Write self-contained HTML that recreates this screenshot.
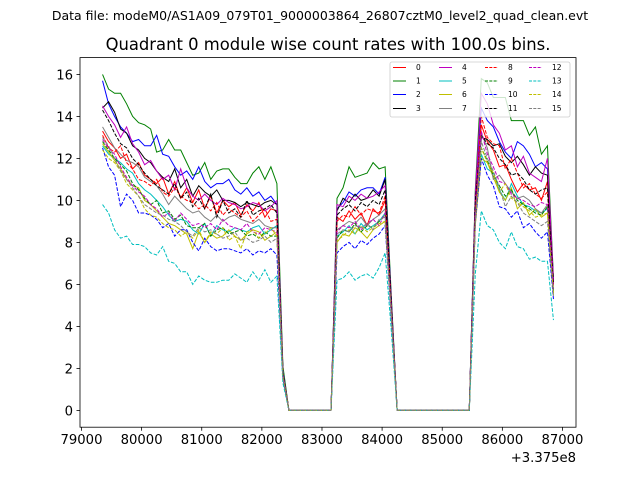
<!DOCTYPE html>
<html><head><meta charset="utf-8"><style>
html,body{margin:0;padding:0;background:#fff;}
svg{display:block;font-family:"DejaVu Sans","Liberation Sans",sans-serif;}
</style></head><body>
<svg id="chart" width="640" height="480" viewBox="0 0 640 480">
<rect width="640" height="480" fill="#fff"/>
<text x="320" y="20" font-size="12.5" text-anchor="middle">Data file: modeM0/AS1A09_079T01_9000003864_26807cztM0_level2_quad_clean.evt</text>
<text x="328" y="50" font-size="16.4" text-anchor="middle">Quadrant 0 module wise count rates with 100.0s bins.</text>
<g id="plot"></g>
<g id="axes"></g>
<g id="legend"></g>
</svg>
<script>
const timesA=[79350,79450,79550,79650,79750,79850,79950,80050,80150,80250,80350,80450,80550,80650,80750,80850,80950,81050,81150,81250,81350,81450,81550,81650,81750,81850,81950,82050,82150,82250,82350];
const timesZ1=[82450,82550,82650,82750,82850,82950,83050];
const timesB=[83150,83250,83350,83450,83550,83650,83750,83850,83950,84050,84150];
const timesZ2=[84250,84350,84450,84550,84650,84750,84850,84950,85050,85150,85250,85350,85450];
const timesC=[85550,85650,85750,85850,85950,86050,86150,86250,86350,86450,86550,86650,86750,86850];
const zeros1=[0,0,0,0,0,0,0];
const zeros2=[0,0,0,0,0,0,0,0,0,0,0,0,0];
const seriesNames=["0","1","2","3","4","5","6","7","8","9","10","11","12","13","14","15"];
const segA=[
[13.3,12.8,12.5,12.0,12.2,11.5,11.8,11.2,11.0,10.8,11.1,10.3,10.9,10.1,10.6,9.9,10.5,9.6,10.2,9.4,10.0,9.7,9.9,9.3,9.8,9.5,9.9,9.2,9.6,9.5,2.0],
[16.0,15.3,15.1,15.1,14.6,14.0,13.7,13.6,13.4,12.3,12.4,12.9,12.4,12.4,11.8,11.2,11.3,11.8,11.0,11.4,11.5,11.5,11.1,10.8,10.8,11.3,11.6,11.0,11.6,10.8,2.1],
[15.7,14.6,14.0,13.5,13.2,12.8,12.9,12.6,12.6,13.1,12.2,12.1,11.6,11.2,11.4,11.0,11.6,10.9,10.6,10.8,10.8,11.0,10.5,10.3,10.6,10.2,10.4,10.0,10.2,9.8,1.9],
[14.4,14.7,14.2,13.4,13.2,12.6,12.4,12.0,11.8,11.4,11.1,10.9,11.5,10.6,11.0,10.2,10.7,10.4,10.2,10.5,10.0,10.0,9.9,9.7,9.9,9.8,9.7,9.9,10.0,9.8,1.8],
[14.5,14.0,13.6,13.0,13.5,12.7,12.3,11.7,11.9,11.4,11.0,11.2,10.5,11.5,10.6,10.2,10.0,10.3,10.0,9.8,10.1,9.9,9.8,9.6,9.7,9.9,9.8,9.5,9.7,10.0,1.7],
[12.6,12.2,12.0,11.8,11.5,11.3,10.8,10.5,10.3,10.0,9.7,9.3,9.0,9.1,9.0,8.6,8.4,8.9,8.3,8.8,8.6,8.5,8.7,8.6,8.5,8.7,8.8,8.4,8.6,8.8,1.7],
[12.7,12.3,11.9,11.5,11.0,10.7,10.6,10.0,9.8,9.5,9.2,8.9,8.8,8.6,8.4,7.7,8.5,8.0,8.4,8.2,8.3,8.6,8.3,8.1,8.4,8.6,8.5,8.1,8.3,8.5,1.8],
[13.5,13.0,12.5,12.2,11.9,11.8,11.6,11.1,10.9,10.7,10.3,9.8,10.2,9.9,9.6,9.4,9.5,9.2,9.0,9.3,9.0,9.2,9.3,9.1,9.0,8.9,9.1,8.8,8.7,8.7,1.6],
[13.1,12.5,12.3,12.6,11.8,11.5,11.0,10.9,10.7,11.0,10.4,10.2,10.6,10.2,10.0,9.9,9.6,9.8,9.5,9.9,9.3,9.6,9.4,9.2,9.5,9.0,9.3,9.6,9.0,9.1,1.7],
[12.8,12.4,12.0,11.7,11.4,10.8,10.5,10.1,9.8,10.0,9.4,9.5,9.1,9.3,8.8,8.7,8.7,8.9,8.3,8.6,8.7,8.4,8.5,8.6,8.3,8.4,8.2,8.5,8.3,8.3,1.6],
[12.5,11.6,11.2,9.7,10.3,10.0,9.4,9.4,9.3,9.1,8.7,8.9,8.3,8.6,8.6,8.0,7.6,8.2,7.8,7.6,7.7,7.7,7.6,7.5,7.7,7.4,7.6,7.5,7.7,7.4,1.5],
[14.3,13.8,13.2,12.7,12.5,12.0,11.7,11.3,11.0,10.7,10.5,10.3,10.8,10.1,10.4,9.7,10.1,9.6,10.3,9.2,10.0,9.4,9.6,9.2,10.0,9.3,9.5,9.6,9.8,9.4,1.8],
[12.9,12.5,12.2,11.6,11.1,10.7,10.4,10.2,9.8,9.6,9.2,9.4,9.0,9.4,9.1,8.8,8.9,8.7,8.9,8.6,9.1,8.8,8.7,8.6,8.9,8.5,8.4,8.7,8.6,8.5,1.7],
[9.8,9.4,8.6,8.2,8.3,7.9,7.9,7.8,7.5,7.4,7.8,7.1,7.0,6.6,6.6,6.0,6.4,6.2,6.1,6.1,6.2,6.2,6.5,6.3,6.1,6.6,6.2,6.7,6.1,6.4,1.3],
[12.4,12.0,11.8,11.4,10.8,10.5,10.2,9.6,9.3,9.2,8.9,8.7,8.6,8.3,8.5,8.2,8.6,8.0,8.5,8.4,8.7,8.1,8.3,7.7,8.5,8.6,8.2,8.4,8.7,8.3,1.6],
[13.0,12.6,12.0,11.4,11.0,10.6,10.2,9.8,9.6,9.4,9.3,9.1,9.0,8.8,8.5,8.3,8.7,8.5,8.6,8.4,8.2,8.3,8.5,8.1,8.2,8.0,8.1,8.3,8.0,8.2,1.6]];
const segB=[
[0,9.2,9.0,9.5,9.1,9.4,8.8,9.6,9.3,10.0,5.2],
[0,10.1,10.6,11.6,11.1,11.2,11.3,11.8,11.5,11.6,5.6],
[0,9.6,9.9,10.4,10.2,10.5,10.6,10.6,10.3,11.1,5.4],
[0,9.5,10.1,9.9,10.3,10.0,10.1,10.5,10.2,11.0,5.3],
[0,9.8,9.7,10.2,10.0,10.3,10.1,10.2,10.4,10.7,5.3],
[0,8.3,8.5,8.8,8.4,8.9,8.6,8.8,9.0,9.4,4.8],
[0,8.0,8.4,8.3,8.7,8.5,8.2,8.6,8.8,9.0,4.7],
[0,8.6,8.8,9.0,8.9,9.2,8.8,9.1,9.3,9.6,4.9],
[0,9.0,9.3,9.2,9.7,9.3,9.6,9.5,9.4,10.2,5.1],
[0,8.2,8.6,8.5,8.9,8.5,8.8,8.7,9.0,9.3,4.8],
[0,7.5,7.8,8.0,7.7,8.1,7.9,8.2,8.4,8.8,4.5],
[0,9.3,9.6,9.8,9.5,9.9,9.7,10.0,9.8,10.5,5.2],
[0,8.5,8.8,8.7,9.0,8.6,8.9,9.1,8.8,9.4,4.8],
[0,6.2,6.3,6.6,6.2,6.4,6.5,6.3,6.8,7.5,3.9],
[0,8.1,8.3,8.6,8.4,8.8,8.5,8.7,8.9,9.0,4.7],
[0,8.4,8.6,8.5,8.8,8.7,8.9,8.6,9.1,9.2,4.8]];
const segC=[
[9.5,13.6,12.8,12.4,11.6,11.7,11.0,10.4,10.8,10.5,10.6,10.0,10.9,6.0],
[10.5,15.8,15.6,14.9,14.9,14.9,13.8,13.8,13.8,13.1,13.5,12.2,12.6,6.3],
[10.2,14.4,13.8,13.5,12.8,12.3,12.0,12.8,12.6,12.2,11.6,11.8,11.5,6.2],
[10.0,13.0,12.9,12.6,12.7,12.1,11.8,12.1,11.7,11.2,11.6,11.3,11.2,6.1],
[10.3,15.1,14.6,13.6,13.2,12.4,12.6,11.6,12.1,11.3,11.1,10.9,12.0,6.2],
[9.0,12.2,11.5,11.3,10.5,10.0,10.8,10.2,9.8,9.7,9.5,9.4,9.6,5.6],
[8.8,12.0,11.8,11.1,10.4,10.0,10.6,9.6,9.9,9.3,9.6,9.2,9.4,5.5],
[9.5,13.2,12.5,11.0,11.2,10.8,10.4,10.1,10.2,10.0,9.6,9.4,9.8,5.8],
[9.6,14.0,13.0,12.7,12.6,11.5,12.0,11.3,10.6,10.8,10.3,10.1,10.4,6.0],
[9.2,12.5,11.9,11.2,10.7,10.2,10.5,10.0,9.8,9.6,9.4,9.3,9.7,5.7],
[8.9,12.0,11.2,10.7,9.7,9.6,9.2,9.5,8.7,8.9,8.5,8.2,8.5,5.3],
[10.0,13.1,12.7,12.5,12.0,11.7,11.2,11.3,11.0,10.5,10.3,10.5,10.6,6.0],
[9.3,13.3,12.2,11.6,10.9,10.8,10.3,10.1,10.0,9.8,9.7,9.9,9.8,5.8],
[6.5,9.5,8.8,8.6,8.0,7.7,8.5,7.8,7.7,7.2,7.3,7.1,7.1,4.3],
[9.0,12.5,11.8,11.3,10.4,10.8,10.1,9.9,9.7,9.5,9.2,9.3,9.4,5.6],
[9.1,12.8,12.0,11.4,10.6,9.7,10.2,9.9,9.4,9.2,9.0,8.8,9.0,5.4]];
const xTicks=[79000,80000,81000,82000,83000,84000,85000,86000,87000];
const yTicks=[0,2,4,6,8,10,12,14,16];

const NS="http://www.w3.org/2000/svg";
const L=80,R=576,T=57.6,B=427.2;
const xMin=78975,xMax=87225,yMin=-0.8,yMax=16.8;
function sx(v){return L+(v-xMin)/(xMax-xMin)*(R-L);}
function sy(v){return B-(v-yMin)/(yMax-yMin)*(B-T);}
const colors=["#ff0000","#008000","#0000ff","#000000","#bf00bf","#00bfbf","#bfbf00","#808080"];
function mk(tag,attrs,parent){const e=document.createElementNS(NS,tag);for(const k in attrs)e.setAttribute(k,attrs[k]);parent.appendChild(e);return e;}
const plot=document.getElementById('plot'),axes=document.getElementById('axes'),leg=document.getElementById('legend');
const times=timesA.concat(timesZ1,timesB,timesZ2,timesC);
for(let i=0;i<16;i++){
  const vals=segA[i].concat(zeros1,segB[i],zeros2,segC[i]);
  const d=vals.map((v,j)=>(j?'L':'M')+sx(times[j]).toFixed(2)+' '+sy(v).toFixed(2)).join(' ');
  const p=mk('path',{d:d,fill:'none',stroke:colors[i%8],'stroke-width':1,'stroke-dasharray':i>=8?'3.7,1.6':'none'},plot);
  
  
}
const fr=mk('rect',{x:L,y:T,width:R-L,height:B-T,fill:'none',stroke:'#000','stroke-width':0.8},axes);


xTicks.forEach(t=>{
  const x=sx(t);
  mk('line',{x1:x,x2:x,y1:B,y2:B+3.5,stroke:'#000','stroke-width':0.8},axes);
  const tx=mk('text',{x:x,y:B+17,'font-size':13.2,'text-anchor':'middle'},axes);
  tx.textContent=t;
  
  
});
yTicks.forEach(t=>{
  const y=sy(t);
  mk('line',{x1:L-3.5,x2:L,y1:y,y2:y,stroke:'#000','stroke-width':0.8},axes);
  const tx=mk('text',{x:L-7,y:y+5,'font-size':13.2,'text-anchor':'end'},axes);
  tx.textContent=t;
  
  
});
const off=mk('text',{x:R,y:462,'font-size':13.2,'text-anchor':'end'},axes);
off.textContent='+3.375e8';


const lb=mk('rect',{x:390,y:62,width:180,height:55,rx:2,fill:'#fff','fill-opacity':0.8,stroke:'#ccc','stroke-width':0.8},leg);


const colX=[393,439,485,529],rowY=[67.5,81,94.5,108.5];
for(let i=0;i<16;i++){
  const c=Math.floor(i/4),r=i%4,x=colX[c],y=rowY[r];
  const g=mk('g',{},leg);
  
  
  mk('line',{x1:x,x2:x+13,y1:y,y2:y,stroke:colors[i%8],'stroke-width':1,'stroke-dasharray':i>=8?'3,1.3':'none'},g);
  const t=mk('text',{x:x+23,y:y+2.7,'font-size':7.5},g);
  t.textContent=seriesNames[i];
}
</script>
</body></html>
